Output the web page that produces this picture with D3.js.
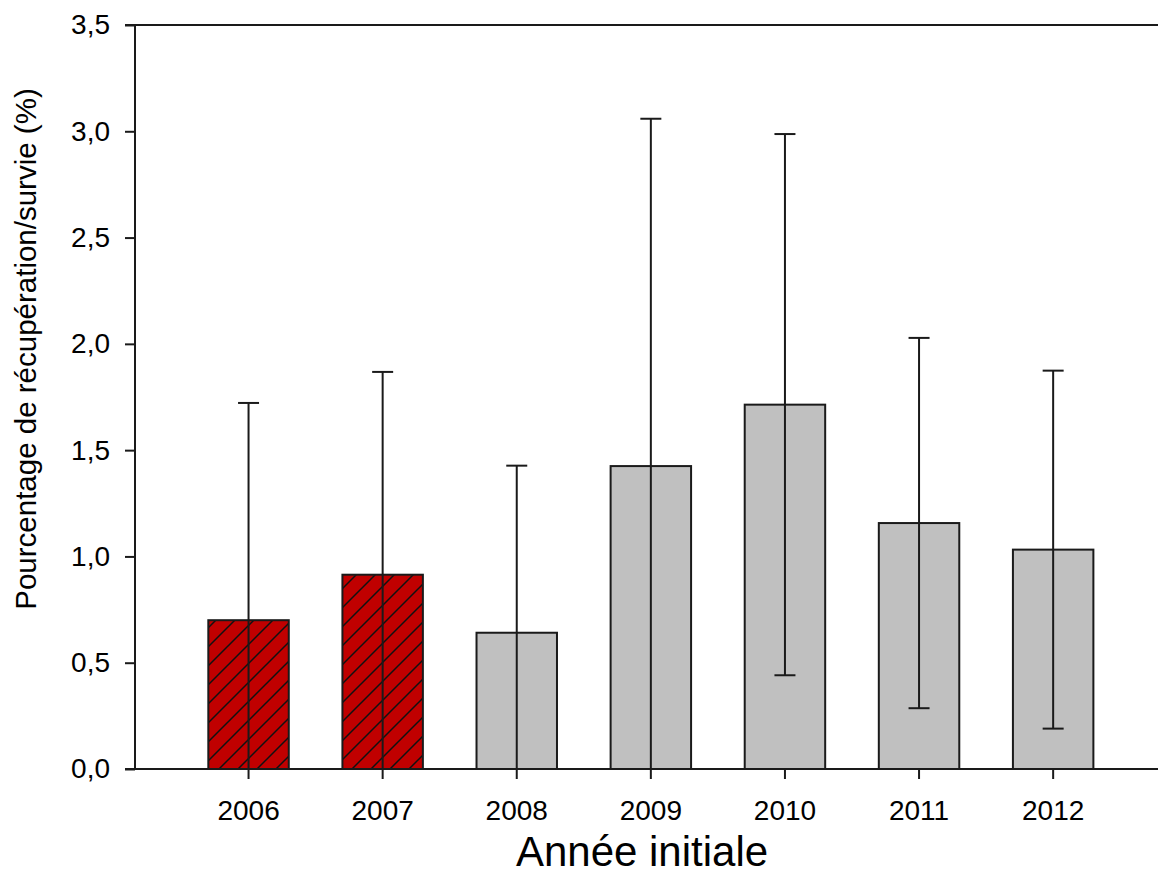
<!DOCTYPE html>
<html>
<head>
<meta charset="utf-8">
<script src="https://cdn.jsdelivr.net/npm/d3@7"></script>
<style>
  html, body { margin: 0; padding: 0; background: #fff; }
  svg { display: block; font-family: "Liberation Sans", Arial, sans-serif; }
</style>
</head>
<body>
<svg id="chart" width="1158" height="874"></svg>
<script>
// Recovery / survival percentage by initial year, with error bars
const years = ["2006", "2007", "2008", "2009", "2010", "2011", "2012"];
const means = [0.70, 0.914, 0.641, 1.425, 1.714, 1.157, 1.032];
const errors = [1.022, 0.954, 0.786, 1.634, 1.273, 0.871, 0.842];
const hatchedYears = ["2006", "2007"];
const yTicks = [0, 0.5, 1.0, 1.5, 2.0, 2.5, 3.0, 3.5];

const svg = d3.select("#chart");
const plot = { left: 135, right: 1158, top: 25, bottom: 769 };
const ink = "#1a1a1a";

const x = d3.scaleBand()
  .domain(years)
  .range([181.5, 1120.2])
  .paddingInner(0.4)
  .paddingOuter(0.2);

const y = d3.scaleLinear()
  .domain([0, 3.5])
  .range([plot.bottom, plot.top]);

const fmt = d => d.toFixed(1).replace(".", ",");

// Diagonal hatch used for the first two years
const defs = svg.append("defs");
const pat = defs.append("pattern")
  .attr("id", "hatch")
  .attr("patternUnits", "userSpaceOnUse")
  .attr("width", 19)
  .attr("height", 19);
pat.append("rect").attr("width", 19).attr("height", 19).attr("fill", "#c00000");
pat.append("path")
  .attr("d", "M-2,21 L21,-2 M-2,2 L2,-2 M17,21 L21,17")
  .attr("stroke", "#111")
  .attr("stroke-width", 1.5);

defs.append("clipPath").attr("id", "plotClip")
  .append("rect")
  .attr("x", plot.left)
  .attr("y", plot.top - 2)
  .attr("width", plot.right - plot.left)
  .attr("height", plot.bottom - plot.top + 2);

const rows = years.map((yr, i) => ({ year: yr, mean: means[i], err: errors[i] }));

// Bars
svg.append("g")
  .selectAll("rect")
  .data(rows)
  .join("rect")
  .attr("x", d => x(d.year))
  .attr("y", d => y(d.mean))
  .attr("width", x.bandwidth())
  .attr("height", d => y(0) - y(d.mean))
  .attr("fill", d => hatchedYears.includes(d.year) ? "url(#hatch)" : "#c0c0c0")
  .attr("stroke", ink)
  .attr("stroke-width", 2);

// Error bars (clipped to the plot area so negative lower limits stop at zero)
const eb = svg.append("g")
  .attr("clip-path", "url(#plotClip)")
  .attr("stroke", ink)
  .attr("stroke-width", 2);
const cx = d => x(d.year) + x.bandwidth() / 2;
const capHalf = 10.5;

eb.selectAll("line.stem")
  .data(rows)
  .join("line")
  .attr("class", "stem")
  .attr("x1", cx).attr("x2", cx)
  .attr("y1", d => y(d.mean + d.err))
  .attr("y2", d => y(d.mean - d.err));

eb.selectAll("line.capTop")
  .data(rows)
  .join("line")
  .attr("class", "capTop")
  .attr("x1", d => cx(d) - capHalf).attr("x2", d => cx(d) + capHalf)
  .attr("y1", d => y(d.mean + d.err)).attr("y2", d => y(d.mean + d.err));

eb.selectAll("line.capBottom")
  .data(rows.filter(d => d.mean - d.err >= 0))
  .join("line")
  .attr("class", "capBottom")
  .attr("x1", d => cx(d) - capHalf).attr("x2", d => cx(d) + capHalf)
  .attr("y1", d => y(d.mean - d.err)).attr("y2", d => y(d.mean - d.err));

// Y axis
const yAxis = svg.append("g")
  .attr("transform", `translate(${plot.left},0)`)
  .call(d3.axisLeft(y).tickValues(yTicks).tickFormat(fmt).tickSize(10).tickSizeOuter(0).tickPadding(15));
yAxis.select(".domain").remove();
yAxis.selectAll(".tick line").attr("stroke", ink).attr("stroke-width", 2);
yAxis.selectAll(".tick text")
  .attr("fill", "#000")
  .style("font-size", "28px")
  .style("font-family", "'Liberation Sans', Arial, sans-serif");

// X axis
const xAxis = svg.append("g")
  .attr("transform", `translate(0,${plot.bottom})`)
  .call(d3.axisBottom(x).tickSize(10).tickSizeOuter(0).tickPadding(21));
xAxis.select(".domain").remove();
xAxis.selectAll(".tick line").attr("stroke", ink).attr("stroke-width", 2);
xAxis.selectAll(".tick text")
  .attr("fill", "#000")
  .style("font-size", "28px")
  .style("font-family", "'Liberation Sans', Arial, sans-serif");

// Frame lines: left axis, bottom axis, top line
const frame = svg.append("g").attr("stroke", ink).attr("stroke-width", 2);
frame.append("line")
  .attr("x1", plot.left).attr("x2", plot.left)
  .attr("y1", plot.top).attr("y2", plot.bottom);
frame.append("line")
  .attr("x1", plot.left - 10).attr("x2", plot.right)
  .attr("y1", plot.bottom).attr("y2", plot.bottom);
frame.append("line")
  .attr("x1", plot.left - 10).attr("x2", plot.right)
  .attr("y1", plot.top).attr("y2", plot.top);

// Axis titles
svg.append("text")
  .attr("x", 642)
  .attr("y", 866)
  .attr("text-anchor", "middle")
  .style("font-size", "42px")
  .attr("fill", "#000")
  .text("Année initiale");

svg.append("text")
  .attr("transform", "translate(36,349) rotate(-90)")
  .attr("text-anchor", "middle")
  .style("font-size", "29.5px")
  .attr("fill", "#000")
  .text("Pourcentage de récupération/survie (%)");
</script>
</body>
</html>
